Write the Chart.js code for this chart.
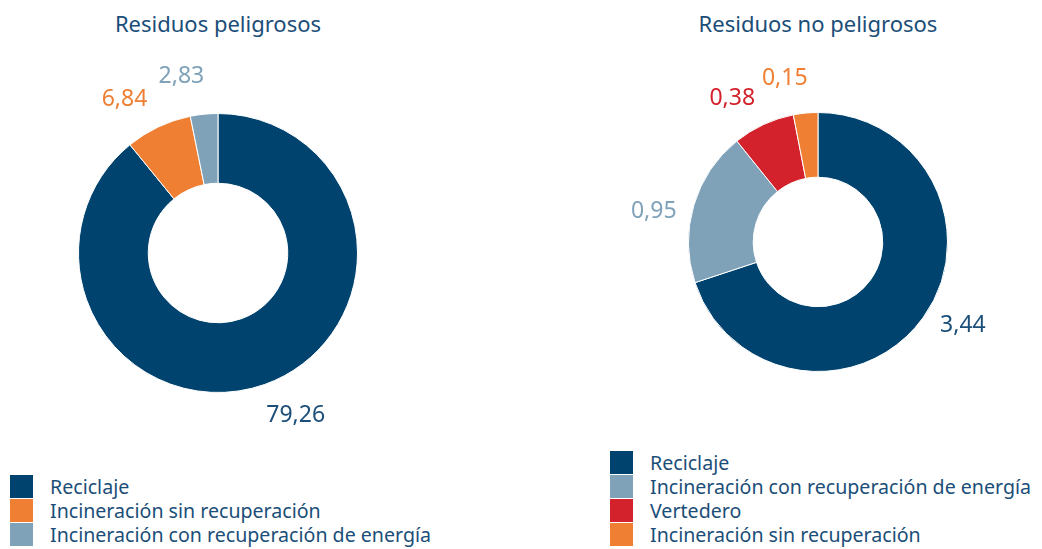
<!DOCTYPE html>
<html>
<head>
<meta charset="utf-8">
<script src="https://cdn.jsdelivr.net/npm/chart.js@4"></script>
<style>
  body { margin: 0; background: #fff; font-family: "Noto Sans", sans-serif; color: #1b4e78; }
  #wrap { position: relative; width: 1042px; height: 549px; overflow: hidden; }
  .ttl { position: absolute; top: 8px; width: 436px; text-align: center; font-size: 22px; }
  canvas { position: absolute; }
  .lg { position: absolute; font-size: 19.6px; }
  .lg div { height: 24px; display: flex; align-items: center; }
  .lg span.sq { width: 23px; height: 23px; margin-right: 17px; flex: none; }
</style>
</head>
<body>
<div id="wrap">
  <div class="ttl" style="left:0">Residuos peligrosos</div>
  <div class="ttl" style="left:600px">Residuos no peligrosos</div>
  <div style="position:absolute;left:0;top:40px;width:436px;height:426px"><canvas id="dona_pel"></canvas></div>
  <div style="position:absolute;left:600px;top:40px;width:436px;height:404px"><canvas id="dona_nopel"></canvas></div>
  <div class="lg" id="lg_pel" style="left:10px;top:474px"></div>
  <div class="lg" id="lg_nopel" style="left:610px;top:450px"></div>
</div>
<script>
var pelLabels = ["Reciclaje", "Incineración sin recuperación", "Incineración con recuperación de energía"];
var pelValues = [79.26, 6.84, 2.83];
var pelColors = ["#00436e", "#ee7f33", "#7fa2b9"];

var noPelLabels = ["Reciclaje", "Incineración con recuperación de energía", "Vertedero", "Incineración sin recuperación"];
var noPelValues = [3.44, 0.95, 0.38, 0.15];
var noPelColors = ["#00436e", "#7fa2b9", "#d3222c", "#ee7f33"];

// etiquetas de valor fuera del anillo
const valueLabels = {
    id: 'valueLabels',
    afterDatasetsDraw(chart) {
        const ctx = chart.ctx;
        const ds = chart.data.datasets[0];
        chart.getDatasetMeta(0).data.forEach(function (arc, i) {
            const mid = (arc.startAngle + arc.endAngle) / 2 - 6 * Math.PI / 180;
            const r = arc.outerRadius * 1.29;
            const x = arc.x + Math.cos(mid) * r;
            const y = arc.y + Math.sin(mid) * r;
            ctx.save();
            ctx.font = '23px "Noto Sans"';
            ctx.fillStyle = i === 0 ? '#1b4e78' : ds.backgroundColor[i];
            ctx.textAlign = 'center';
            ctx.textBaseline = 'middle';
            ctx.fillText(ds.data[i].toFixed(2).replace('.', ','), x, y);
            ctx.restore();
        });
    }
};

function makeDona(id, labels, values, colors, padX, padY) {
    return new Chart(id, {
        type: 'doughnut',
        data: {
            labels: labels,
            datasets: [{
                data: values,
                backgroundColor: colors,
                borderColor: '#fff',
                borderWidth: 1
            }]
        },
        options: {
            responsive: true,
            maintainAspectRatio: false,
            animation: false,
            cutout: '50%',
            layout: { padding: { left: padX, right: padX, top: padY, bottom: padY } },
            plugins: {
                legend: { display: false },
                title: { display: false },
                tooltip: { enabled: false }
            }
        },
        plugins: [valueLabels]
    });
}

function makeLegend(id, labels, colors) {
    const el = document.getElementById(id);
    labels.forEach(function (l, i) {
        const row = document.createElement('div');
        const sq = document.createElement('span');
        sq.className = 'sq';
        sq.style.background = colors[i];
        row.appendChild(sq);
        row.appendChild(document.createTextNode(l));
        el.appendChild(row);
    });
}

const dona_pel = makeDona('dona_pel', pelLabels, pelValues, pelColors, 78, 73);
const dona_nopel = makeDona('dona_nopel', noPelLabels, noPelValues, noPelColors, 88, 72);
makeLegend('lg_pel', pelLabels, pelColors);
makeLegend('lg_nopel', noPelLabels, noPelColors);
</script>
</body>
</html>
